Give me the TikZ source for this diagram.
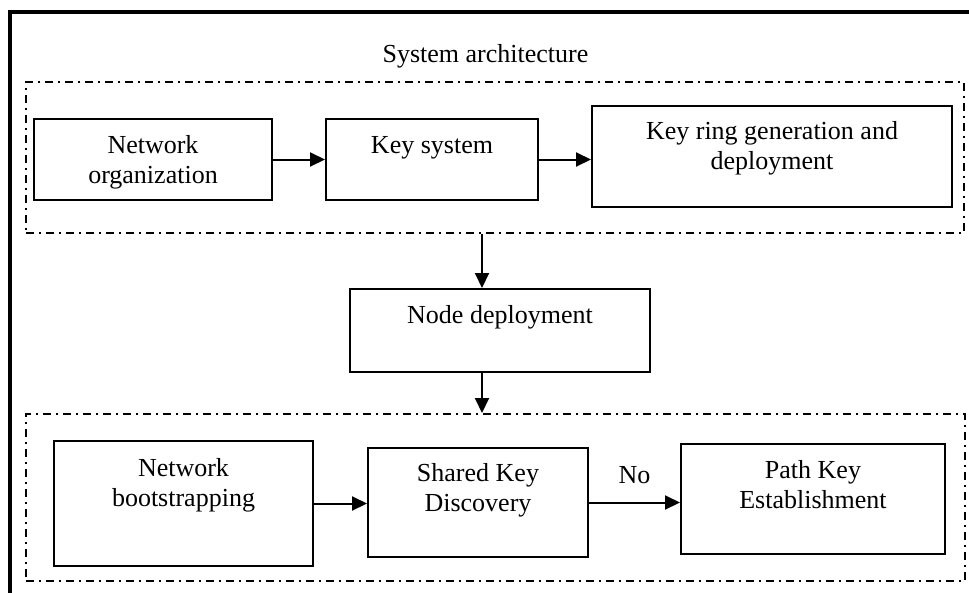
\documentclass[tikz,border=0pt]{standalone}
\usepackage{fontspec}
\setmainfont{Liberation Serif}
\usepackage{tikz}
\usetikzlibrary{arrows.meta, positioning}

\begin{document}
\begin{tikzpicture}[
    x=1pt, y=-1pt,
    font=\fontsize{26}{30}\selectfont,
    stage/.style={rectangle, draw=black, line width=2pt, inner xsep=0pt, inner ysep=0pt, align=center, text height=34pt, anchor=north west},
    stagetwo/.style={stage, text height=64pt},
    grpbox/.style={rectangle, draw=black, line width=2pt, dash pattern=on 8pt off 5pt on 2pt off 5pt, inner sep=0pt, anchor=north west},
    arr/.style={-{Triangle[length=15pt, width=14pt]}, line width=2pt, color=black}
]
\useasboundingbox (0,0) rectangle (969,592);

\draw[line width=4pt] (10,600) -- (10,12) -- (975,12);

\node[grpbox, minimum width=938pt, minimum height=151pt] (sysarch) at (25,81) {};
\node[anchor=base] (systitle) at (485.5,62) {System architecture};

\node[stagetwo, minimum width=238pt, text depth=17pt] (netorg) at (33,118) {Network\\organization};
\node[stage, minimum width=212pt, text depth=47pt] (keysys) at (325,118) {Key system};
\node[stagetwo, minimum width=360pt, text height=63pt, text depth=38pt] (keyring) at (591,105) {Key ring generation and\\deployment};

\coordinate (dropx) at (482,0);
\node[stage, minimum width=300pt, text depth=49pt] (nodedep) at (349,288) {Node deployment};

\node[grpbox, minimum width=939pt, minimum height=167pt] (bootgrp) at (25,413) {};

\node[stagetwo, minimum width=259pt, text height=65pt, text depth=60pt] (netboot) at (53,440) {Network\\bootstrapping};
\node[stagetwo, minimum width=220pt, text height=63pt, text depth=46pt] (sharedkey) at (367,447) {Shared Key\\Discovery};
\node[stagetwo, minimum width=264pt, text depth=46pt] (pathkey) at (680,443) {Path Key\\Establishment};

\draw[arr] (netorg.east) -- (netorg.east -| keysys.west);
\draw[arr] (keysys.east) -- (keysys.east -| keyring.west);
\draw[arr] (sysarch.south -| dropx) -- (nodedep.north -| dropx);
\draw[arr] (nodedep.south -| dropx) -- (bootgrp.north -| dropx);
\draw[arr] (netboot.east) -- (netboot.east -| sharedkey.west);
\draw[arr] (sharedkey.east) -- node[above=14pt] (nolbl) {No} (sharedkey.east -| pathkey.west);

\end{tikzpicture}
\end{document}
